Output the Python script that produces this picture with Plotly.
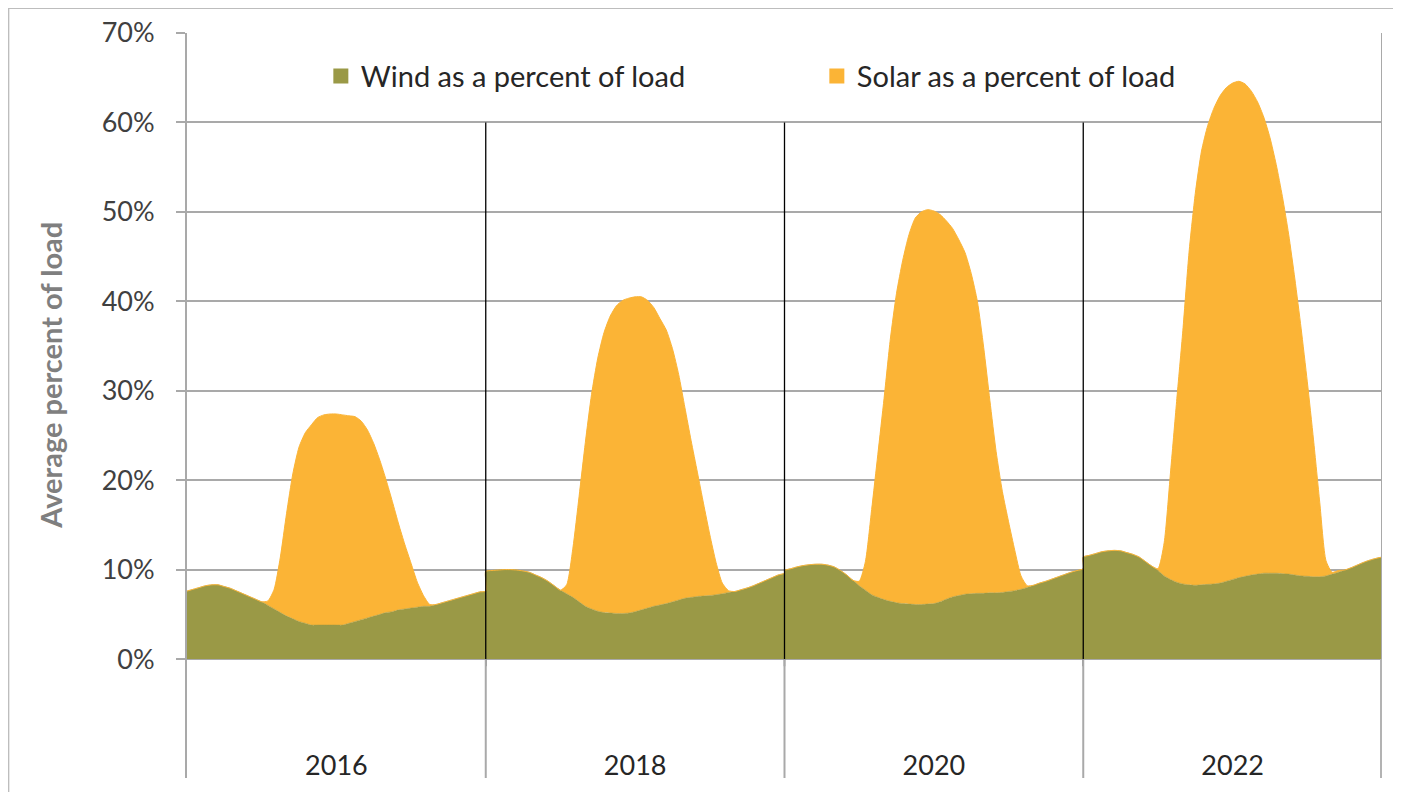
import plotly.graph_objects as go

# ---------------- data ----------------
YEARS = ["2016", "2018", "2020", "2022"]
HOURS = [h / 2 for h in range(49)]  # 0.0 .. 24.0 in half-hour steps

WIND_2016 = [7.6, 7.8, 8.0, 8.2, 8.3, 8.3, 8.1, 7.9, 7.6, 7.3, 7.0, 6.7, 6.4, 6.0, 5.6, 5.2,
             4.8, 4.5, 4.2, 4.0, 3.8, 3.8, 3.8, 3.8, 3.8, 3.8, 4.0, 4.2, 4.4, 4.6, 4.8, 5.0,
             5.2, 5.3, 5.5, 5.6, 5.7, 5.8, 5.9, 5.9, 6.1, 6.3, 6.5, 6.7, 6.9, 7.1, 7.3, 7.5, 7.6]
SOLAR_2016 = [0, 0, 0, 0, 0, 0, 0, 0, 0, 0, 0, 0, 0, 0.5, 2.2, 6.2,
              11.5, 16.2, 19.5, 21.3, 22.4, 23.2, 23.5, 23.6, 23.6, 23.5, 23.2, 22.9, 22.2, 21.0, 19.3, 17.2,
              14.8, 12.3, 9.6, 7.2, 5.0, 2.8, 1.2, 0.2, 0, 0, 0, 0, 0, 0, 0, 0, 0]

WIND_2018 = [9.8, 9.9, 9.95, 10.0, 10.0, 9.95, 9.85, 9.7, 9.4, 9.1, 8.7, 8.2, 7.7, 7.3, 6.9, 6.4,
             5.9, 5.6, 5.35, 5.2, 5.15, 5.1, 5.1, 5.15, 5.3, 5.5, 5.7, 5.9, 6.05, 6.2, 6.4, 6.6,
             6.8, 6.9, 7.0, 7.05, 7.1, 7.2, 7.3, 7.45, 7.55, 7.75, 7.95, 8.2, 8.5, 8.8, 9.1, 9.4, 9.6]
SOLAR_2018 = [0, 0, 0, 0, 0, 0, 0, 0, 0, 0, 0, 0, 0, 1.0, 5.5, 11.8,
              18.3, 24.0, 28.3, 31.3, 33.2, 34.4, 35.0, 35.2, 35.2, 35.0, 34.4, 33.4, 32.0, 30.6, 28.3, 25.2,
              21.3, 17.5, 13.9, 10.3, 6.8, 3.6, 1.2, 0.2, 0, 0, 0, 0, 0, 0, 0, 0, 0]

WIND_2020 = [9.9, 10.1, 10.3, 10.45, 10.55, 10.6, 10.6, 10.5, 10.3, 9.9, 9.4, 8.8, 8.2, 7.7, 7.2, 6.9,
             6.65, 6.45, 6.3, 6.2, 6.15, 6.1, 6.1, 6.15, 6.2, 6.4, 6.7, 6.95, 7.1, 7.25, 7.3, 7.35,
             7.35, 7.4, 7.4, 7.45, 7.55, 7.65, 7.8, 8.0, 8.25, 8.5, 8.7, 8.95, 9.2, 9.45, 9.7, 9.9, 10.1]
SOLAR_2020 = [0, 0, 0, 0, 0, 0, 0, 0, 0, 0, 0, 0, 0.5, 3.2, 9.5, 16.0,
              22.5, 29.3, 34.6, 38.4, 41.3, 43.2, 43.9, 44.1, 43.9, 43.3, 42.3, 41.2, 39.8, 38.2, 35.8, 32.6,
              27.5, 21.5, 15.8, 11.3, 7.8, 4.5, 1.5, 0.2, 0, 0, 0, 0, 0, 0, 0, 0, 0]

WIND_2022 = [11.4, 11.6, 11.8, 12.0, 12.1, 12.15, 12.1, 11.9, 11.7, 11.4, 10.9, 10.4, 9.9, 9.3, 8.9, 8.6,
             8.4, 8.3, 8.25, 8.3, 8.35, 8.4, 8.5, 8.7, 8.9, 9.1, 9.25, 9.4, 9.5, 9.6, 9.6, 9.6,
             9.55, 9.5, 9.4, 9.3, 9.25, 9.2, 9.2, 9.3, 9.5, 9.7, 9.95, 10.2, 10.5, 10.8, 11.05, 11.25, 11.4]
SOLAR_2022 = [0, 0, 0, 0, 0, 0, 0, 0, 0, 0, 0, 0, 0.2, 3.7, 11.8, 20.2,
              28.3, 37.2, 43.8, 48.5, 51.3, 53.2, 54.5, 55.2, 55.5, 55.5, 55.05, 54.1, 52.8, 51.0, 48.7, 45.7,
              42.15, 38.0, 33.1, 27.7, 21.75, 15.3, 8.3, 1.7, 0.2, 0.2, 0, 0, 0, 0, 0, 0, 0]

WIND = [WIND_2016, WIND_2018, WIND_2020, WIND_2022]
SOLAR = [SOLAR_2016, SOLAR_2018, SOLAR_2020, SOLAR_2022]

Y_TICKS = [0, 10, 20, 30, 40, 50, 60, 70]
Y_TICK_TEXT = [f"{v}%" for v in Y_TICKS]

# ---------------- build the continuous series ----------------
x_all, wind_all, total_all, solar_all = [], [], [], []
for i in range(len(YEARS)):
    for h, w, s in zip(HOURS, WIND[i], SOLAR[i]):
        x_all.append(i * 24 + h)
        wind_all.append(w)
        solar_all.append(s)
        total_all.append(w + s)

WIND_COLOR = "#9a9946"
SOLAR_COLOR = "#fbb436"
GRID = "#a9a9a9"
FONT = "Lato"

fig = go.Figure()
fig.add_trace(go.Scatter(
    x=x_all, y=wind_all, mode="lines", fill="tozeroy",
    line=dict(color=WIND_COLOR, width=0.5, shape="spline", smoothing=0.6), fillcolor=WIND_COLOR,
    name="Wind as a percent of load", showlegend=False,
))
fig.add_trace(go.Scatter(
    x=x_all, y=total_all, customdata=solar_all, mode="lines", fill="tonexty",
    line=dict(color=SOLAR_COLOR, width=1, shape="spline", smoothing=0.6), fillcolor=SOLAR_COLOR,
    name="Solar as a percent of load", showlegend=False,
    hovertemplate="%{customdata}%<extra>Solar</extra>",
))
# legend entries (square markers as in the reference)
fig.add_trace(go.Scatter(x=[None], y=[None], mode="markers",
                         marker=dict(symbol="square", size=15, color=WIND_COLOR),
                         name="Wind as a percent of load"))
fig.add_trace(go.Scatter(x=[None], y=[None], mode="markers",
                         marker=dict(symbol="square", size=15, color=SOLAR_COLOR),
                         name="Solar as a percent of load"))

shapes = []
n = len(YEARS)
for i in range(1, n):
    b = i * 24
    # black separators inside the plot
    shapes.append(dict(type="line", xref="x", yref="y", x0=b, x1=b, y0=-0.8, y1=60,
                       line=dict(color="black", width=1.3)))
    # gray category dividers below the zero line
    shapes.append(dict(type="line", xref="x", yref="y", x0=b, x1=b, y0=-13.3, y1=0,
                       line=dict(color=GRID, width=2)))
# right border
shapes.append(dict(type="line", xref="x", yref="y", x0=n * 24, x1=n * 24, y0=0, y1=70,
                   line=dict(color=GRID, width=2)))
shapes.append(dict(type="line", xref="x", yref="y", x0=n * 24, x1=n * 24, y0=-13.3, y1=0,
                   line=dict(color="#b3b3b3", width=4)))
# outer chart frame
shapes.append(dict(type="rect", xref="paper", yref="paper",
                   x0=-0.1495, x1=1.03, y0=-0.05, y1=1.0335,
                   line=dict(color="#bdbdbd", width=2), fillcolor="rgba(0,0,0,0)", layer="below"))

# page body has an 8px margin, so the figure is 8px smaller than the window
fig.update_layout(
    width=1393, height=784, autosize=False,
    margin=dict(l=179, r=19, t=25, b=14, autoexpand=False),
    paper_bgcolor="white", plot_bgcolor="white",
    font=dict(family=FONT, color="#262626"),
    shapes=shapes,
    showlegend=True,
    legend=dict(orientation="h", x=0.112, y=0.942, xanchor="left", yanchor="middle",
                traceorder="normal",
                font=dict(family=FONT, size=29, color="#262626"),
                bgcolor="rgba(0,0,0,0)", entrywidth=451, entrywidthmode="pixels",
                itemclick=False),
    annotations=[dict(text="Average percent of load", textangle=-90,
                      xref="paper", yref="paper", x=-0.114, y=0.541,
                      xanchor="center", yanchor="middle", showarrow=False,
                      font=dict(family=FONT, size=29, color="#7f7f7f", weight="bold"))],
)
fig.update_xaxes(
    range=[0, n * 24], tickvals=[i * 24 + 12 for i in range(n)], ticktext=YEARS,
    ticklabelposition="inside", ticklabelstandoff=-5, ticks="", showgrid=False,
    zeroline=False, showline=False, automargin=False,
    tickfont=dict(family=FONT, size=27, color="#262626"),
)
fig.update_yaxes(
    range=[-13.3, 70], tickvals=Y_TICKS, ticktext=Y_TICK_TEXT,
    showgrid=True, gridcolor=GRID, gridwidth=2, zeroline=False,
    showline=True, linecolor=GRID, linewidth=2, automargin=False,
    ticks="outside", ticklen=9, tickcolor=GRID, tickwidth=2, ticklabelstandoff=16,
    tickfont=dict(family=FONT, size=27, color="#404040"),
)

fig.write_html("out.html")
